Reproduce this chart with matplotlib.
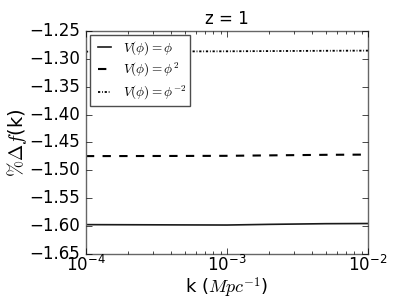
import matplotlib
matplotlib.use("Agg")
import matplotlib.pyplot as plt

plt.style.use("classic")
plt.rcParams["mathtext.fontset"] = "cm"

# k values and %Δf(k) for each potential
k = [1e-4, 2e-4, 5e-4, 1e-3, 2e-3, 5e-3, 1e-2]
df_phi = [-1.5975, -1.5977, -1.5980, -1.5982, -1.5970, -1.5958, -1.5955]
df_phi2 = [-1.4745, -1.4744, -1.4742, -1.4740, -1.4732, -1.4722, -1.4718]
df_phim2 = [-1.2870, -1.2868, -1.2866, -1.2864, -1.2860, -1.2855, -1.2852]

fig = plt.figure(figsize=(4.09, 3.07), dpi=100, facecolor="white")
ax = fig.add_axes([0.21, 0.173, 0.69, 0.726])

ax.plot(k, df_phi, color="0.1", ls="-", lw=1.2, label=r"$V(\phi) = \phi$")
ax.plot(k, df_phi2, "k--", lw=1.5, label=r"$V(\phi) = \phi^2$")
ax.plot(k, df_phim2, color="k", lw=1.3, dashes=(1.6, 1.3, 0.6, 1.3),
        label=r"$V(\phi) = \phi^{-2}$")

ax.set_xscale("log")
ax.set_xlim(1e-4, 1e-2)
ax.set_ylim(-1.65, -1.25)
ax.set_yticks([-1.65, -1.60, -1.55, -1.50, -1.45, -1.40, -1.35, -1.30, -1.25])
ax.set_title("z = 1", fontsize=12)
ax.set_xlabel(r"k ($Mpc^{-1}$)", fontsize=13, labelpad=0)
ax.set_ylabel(r"$\%\Delta f$(k)", fontsize=14, labelpad=0)
ax.tick_params(labelsize=12)
ax.tick_params(axis="x", pad=1)
for s in ax.spines.values():
    s.set_color("0.4")

leg = ax.legend(loc="upper left", fontsize=9.5, handlelength=1.6, borderpad=0.3,
                labelspacing=0.35, handletextpad=0.6, borderaxespad=0.3,
                fancybox=False)
leg.get_frame().set_edgecolor("0.3")

fig.savefig("out.png", dpi=100, facecolor="white")
